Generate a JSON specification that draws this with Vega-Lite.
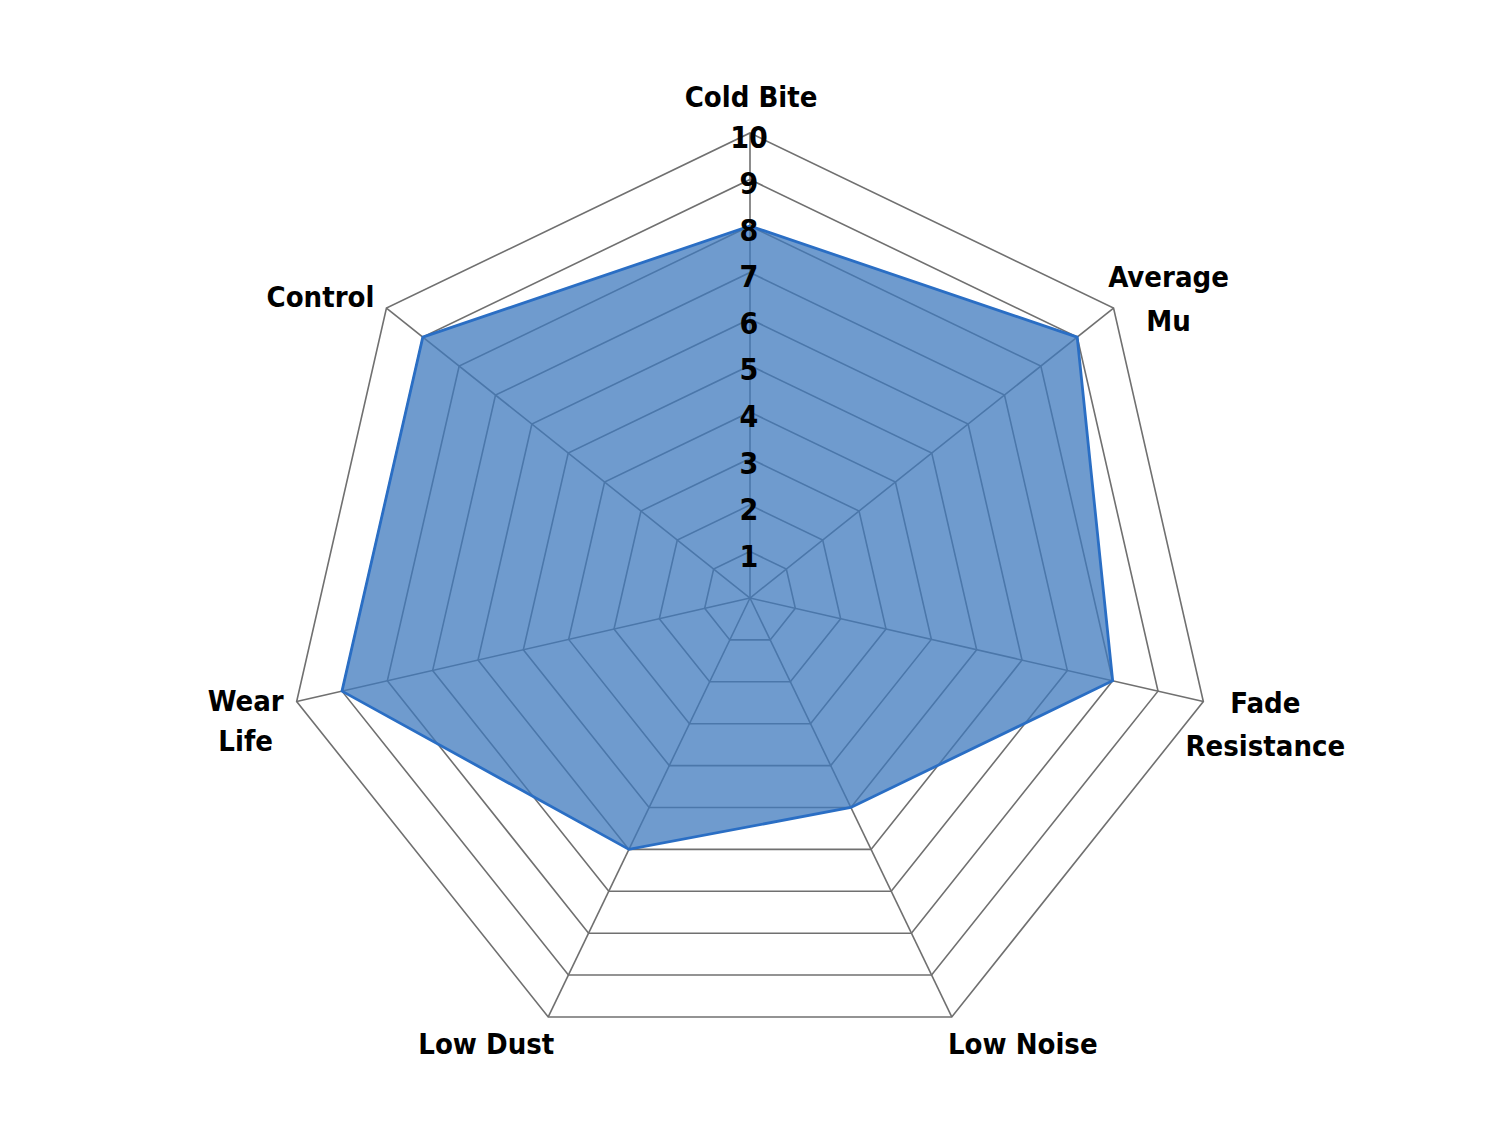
{
  "$schema": "https://vega.github.io/schema/vega-lite/v6.json",
  "width": 1500,
  "height": 1143,
  "padding": 0,
  "autosize": {"type": "none"},
  "background": "white",
  "config": {"view": {"stroke": null}},
  "datasets": {
    "scores": [
      {"axis": "Cold Bite", "idx": 0, "value": 8},
      {"axis": "Average\nMu", "idx": 1, "value": 9},
      {"axis": "Fade\nResistance", "idx": 2, "value": 8},
      {"axis": "Low Noise", "idx": 3, "value": 5},
      {"axis": "Low Dust", "idx": 4, "value": 6},
      {"axis": "Wear\nLife", "idx": 5, "value": 9},
      {"axis": "Control", "idx": 6, "value": 9}
    ],
    "rings": [
      {"level": 1, "idx": [0, 1, 2, 3, 4, 5, 6]},
      {"level": 2, "idx": [0, 1, 2, 3, 4, 5, 6]},
      {"level": 3, "idx": [0, 1, 2, 3, 4, 5, 6]},
      {"level": 4, "idx": [0, 1, 2, 3, 4, 5, 6]},
      {"level": 5, "idx": [0, 1, 2, 3, 4, 5, 6]},
      {"level": 6, "idx": [0, 1, 2, 3, 4, 5, 6]},
      {"level": 7, "idx": [0, 1, 2, 3, 4, 5, 6]},
      {"level": 8, "idx": [0, 1, 2, 3, 4, 5, 6]},
      {"level": 9, "idx": [0, 1, 2, 3, 4, 5, 6]},
      {"level": 10, "idx": [0, 1, 2, 3, 4, 5, 6]}
    ]
  },
  "layer": [
    {
      "data": {"name": "rings"},
      "transform": [
        {"flatten": ["idx"]},
        {"calculate": "datum.level*sin(2*PI*datum.idx/7)", "as": "gx"},
        {"calculate": "datum.level*cos(2*PI*datum.idx/7)", "as": "gy"}
      ],
      "mark": {"type": "line", "interpolate": "linear-closed", "stroke": "#707070", "strokeWidth": 1.6},
      "encoding": {
        "x": {"field": "gx", "type": "quantitative", "axis": null, "scale": {"domain": [-16.129, 16.129], "nice": false, "zero": false}},
        "y": {"field": "gy", "type": "quantitative", "axis": null, "scale": {"domain": [-11.72, 12.86], "nice": false, "zero": false}},
        "detail": {"field": "level", "type": "nominal"},
        "order": {"field": "idx", "type": "quantitative"}
      }
    },
    {
      "data": {"name": "scores"},
      "transform": [
        {"calculate": "10*sin(2*PI*datum.idx/7)", "as": "sx"},
        {"calculate": "10*cos(2*PI*datum.idx/7)", "as": "sy"}
      ],
      "mark": {"type": "rule", "stroke": "#707070", "strokeWidth": 1.6},
      "encoding": {
        "x": {"field": "sx", "type": "quantitative", "axis": null, "scale": {"domain": [-16.129, 16.129], "nice": false, "zero": false}},
        "y": {"field": "sy", "type": "quantitative", "axis": null, "scale": {"domain": [-11.72, 12.86], "nice": false, "zero": false}},
        "x2": {"datum": 0},
        "y2": {"datum": 0}
      }
    },
    {
      "data": {"name": "scores"},
      "transform": [
        {"calculate": "datum.value*sin(2*PI*datum.idx/7)", "as": "px"},
        {"calculate": "datum.value*cos(2*PI*datum.idx/7)", "as": "py"}
      ],
      "mark": {"type": "line", "interpolate": "linear-closed", "fill": "#3F7ABD", "fillOpacity": 0.75, "stroke": "#2A6EC4", "strokeWidth": 2.8, "strokeOpacity": 1},
      "encoding": {
        "x": {"field": "px", "type": "quantitative", "axis": null, "scale": {"domain": [-16.129, 16.129], "nice": false, "zero": false}},
        "y": {"field": "py", "type": "quantitative", "axis": null, "scale": {"domain": [-11.72, 12.86], "nice": false, "zero": false}},
        "order": {"field": "idx", "type": "quantitative"}
      }
    },
    {
      "data": {"name": "rings"},
      "mark": {"type": "text", "font": "Liberation Sans Narrow, DejaVu Sans Condensed, Roboto, sans-serif", "fontWeight": "bold", "fontSize": 30, "color": "black", "align": "center", "baseline": "alphabetic", "dx": -1, "dy": 15},
      "encoding": {
        "x": {"datum": 0, "type": "quantitative", "axis": null, "scale": {"domain": [-16.129, 16.129], "nice": false, "zero": false}},
        "y": {"field": "level", "type": "quantitative", "axis": null, "scale": {"domain": [-11.72, 12.86], "nice": false, "zero": false}},
        "text": {"field": "level", "type": "quantitative"}
      }
    },
    {
      "data": {"name": "scores"},
      "transform": [
        {"calculate": "10*sin(2*PI*datum.idx/7)", "as": "lx"},
        {"calculate": "10*cos(2*PI*datum.idx/7)", "as": "ly"}
      ],
      "encoding": {
        "x": {"field": "lx", "type": "quantitative", "axis": null, "scale": {"domain": [-16.129, 16.129], "nice": false, "zero": false}},
        "y": {"field": "ly", "type": "quantitative", "axis": null, "scale": {"domain": [-11.72, 12.86], "nice": false, "zero": false}},
        "text": {"field": "axis", "type": "nominal"}
      },
      "layer": [
        {"transform": [{"filter": "datum.idx == 0"}], "mark": {"type": "text", "font": "Liberation Sans Narrow, DejaVu Sans Condensed, Roboto, sans-serif", "fontWeight": "bold", "fontSize": 29, "color": "black", "align": "center", "baseline": "alphabetic", "lineBreak": "\n", "lineHeight": 44, "dx": 1, "dy": -26}},
        {"transform": [{"filter": "datum.idx == 1"}], "mark": {"type": "text", "font": "Liberation Sans Narrow, DejaVu Sans Condensed, Roboto, sans-serif", "fontWeight": "bold", "fontSize": 29, "color": "black", "align": "center", "baseline": "alphabetic", "lineBreak": "\n", "lineHeight": 44, "dx": 55, "dy": -21}},
        {"transform": [{"filter": "datum.idx == 2"}], "mark": {"type": "text", "font": "Liberation Sans Narrow, DejaVu Sans Condensed, Roboto, sans-serif", "fontWeight": "bold", "fontSize": 29, "color": "black", "align": "center", "baseline": "alphabetic", "lineBreak": "\n", "lineHeight": 43, "dx": 62, "dy": 12}},
        {"transform": [{"filter": "datum.idx == 3"}], "mark": {"type": "text", "font": "Liberation Sans Narrow, DejaVu Sans Condensed, Roboto, sans-serif", "fontWeight": "bold", "fontSize": 29, "color": "black", "align": "center", "baseline": "alphabetic", "lineBreak": "\n", "lineHeight": 44, "dx": 71, "dy": 37}},
        {"transform": [{"filter": "datum.idx == 4"}], "mark": {"type": "text", "font": "Liberation Sans Narrow, DejaVu Sans Condensed, Roboto, sans-serif", "fontWeight": "bold", "fontSize": 29, "color": "black", "align": "center", "baseline": "alphabetic", "lineBreak": "\n", "lineHeight": 44, "dx": -62, "dy": 37}},
        {"transform": [{"filter": "datum.idx == 5"}], "mark": {"type": "text", "font": "Liberation Sans Narrow, DejaVu Sans Condensed, Roboto, sans-serif", "fontWeight": "bold", "fontSize": 29, "color": "black", "align": "center", "baseline": "alphabetic", "lineBreak": "\n", "lineHeight": 40, "dx": -51, "dy": 10}},
        {"transform": [{"filter": "datum.idx == 6"}], "mark": {"type": "text", "font": "Liberation Sans Narrow, DejaVu Sans Condensed, Roboto, sans-serif", "fontWeight": "bold", "fontSize": 29, "color": "black", "align": "center", "baseline": "alphabetic", "lineBreak": "\n", "lineHeight": 44, "dx": -66, "dy": -1}}
      ]
    }
  ]
}
